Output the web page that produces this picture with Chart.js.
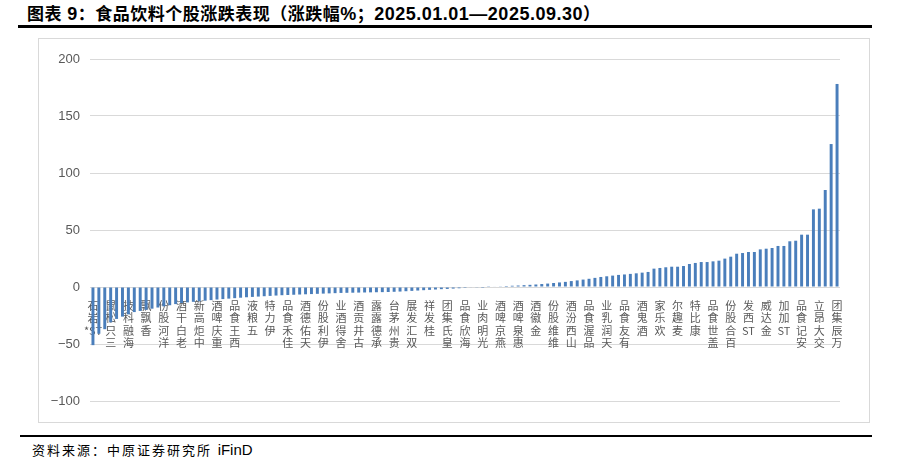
<!DOCTYPE html>
<html>
<head>
<meta charset="utf-8">
<script src="https://cdn.jsdelivr.net/npm/chart.js@4.4.1/dist/chart.umd.min.js"></script>
<style>
    body { margin: 0; background: #fff; width: 899px; height: 465px; position: relative; overflow: hidden;
           font-family: "Liberation Sans", "Noto Sans CJK SC", sans-serif; }
    #title { position: absolute; left: 27px; top: 0px; font-size: 17px; font-weight: bold; color: #000; white-space: nowrap; letter-spacing: 0.5px; }
    #title .n { font-size: 18px; }
    #topline { position: absolute; left: 18px; top: 25px; width: 854px; height: 3px; background: #000; }
    #box { position: absolute; left: 38px; top: 38px; width: 830px; height: 383px; border: 1px solid #d9d9d9; }
    #bottomline { position: absolute; left: 20px; top: 435px; width: 852px; height: 2px; background: #000; }
    #source { position: absolute; left: 32px; top: 440px; font-size: 13px; letter-spacing: 2px; color: #000; white-space: nowrap; }
    #source .n { font-size: 15px; letter-spacing: 0; }
    #wrap { position: absolute; left: 41px; top: 39px; width: 827px; height: 382px; }
</style>
</head>
<body>
<div id="title">图表 <span class="n">9</span>：食品饮料个股涨跌表现（涨跌幅<span class="n">%</span>；<span class="n">2025.01.01—2025.09.30</span>）</div>
<div id="topline"></div>
<div id="box"></div>
<div id="wrap"><canvas id="chart" width="827" height="382"></canvas></div>
<div id="bottomline"></div>
<div id="source">资料来源：中原证券研究所 <span class="n">iFinD</span></div>

<script>
// only every third stock is labelled in the source picture
const stockNames = [
    '*ST岩石', '三只松鼠', '海融科技', '香飘飘', '洋河股份', '老白干酒', '中炬高新', '重庆啤酒',
    '西王食品', '五粮液', '伊力特', '佳禾食品', '天佑德酒', '伊利股份', '舍得酒业', '古井贡酒',
    '承德露露', '贵州茅台', '双汇发展', '桂发祥', '皇氏集团', '海欣食品', '光明肉业', '燕京啤酒',
    '惠泉啤酒', '金徽酒', '维维股份', '山西汾酒', '品渥食品', '天润乳业', '有友食品', '酒鬼酒',
    '欢乐家', '麦趣尔', '康比特', '盖世食品', '百合股份', 'ST西发', '金达威', 'ST加加',
    '安记食品', '交大昂立', '万辰集团'
];

// 涨跌幅 %, sorted ascending
const changePct = [
    -51, -41, -37, -31, -28, -26, -24, -22, -21, -20,
    -19, -18, -17, -16, -15, -14, -13.5, -13, -12.5, -12,
    -11.5, -11, -10.6, -10.2, -9.8, -9.4, -9, -8.7, -8.4, -8.1,
    -7.8, -7.5, -7.2, -7, -6.8, -6.6, -6.4, -6.2, -6, -5.8,
    -5.6, -5.4, -5.2, -5.1, -5, -4.9, -4.8, -4.7, -4.6, -4.5,
    -4.4, -4.2, -4, -3.7, -3.4, -3.1, -2.8, -2.5, -2.2, -1.9,
    -1.7, -1.4, -1.1, -0.8, -0.5, -0.3, -0.1,
    0.2, 0.4, 0.6, 0.9, 1.1, 1.3, 1.6, 1.9, 2.2, 2.6,
    3.0, 3.5, 4.0, 4.5, 5.2, 5.8, 6.5, 7.2, 8.0, 8.8,
    9.4, 10.0, 10.6, 11.0, 11.5, 12.0,
    12.6, 13.2, 16.1, 16.7, 17.3, 17.8, 17.8, 18.4, 20.2, 21.1,
    21.9, 21.9, 22.5, 23.1, 24.9, 26.6, 29.2, 29.8, 30.7, 30.7,
    33.0, 33.6, 34.2, 36.0, 36.0, 40.1, 40.6, 45.9, 45.9, 68.1,
    68.7, 85.1, 125.4, 178.1
];

const yTicks = [-100, -50, 0, 50, 100, 150, 200];

const categories = changePct.map(function(v, i) {
    return i % 3 === 0 ? stockNames[i / 3] : '';
});

// stack characters bottom-to-top, keep latin runs together
function stackLabel(name) {
    if (!name) return '';
    return name.match(/[\x00-\x7F]+|./g).reverse();
}

const ctx = document.getElementById('chart').getContext('2d');
new Chart(ctx, {
    type: 'bar',
    data: {
        labels: categories,
        datasets: [{
            data: changePct,
            backgroundColor: '#4A7EBB',
            barPercentage: 0.5,
            categoryPercentage: 1.0
        }]
    },
    options: {
        responsive: false,
        animation: false,
        devicePixelRatio: 1,
        layout: { padding: { top: 20, right: 28, bottom: 20, left: 0 } },
        plugins: { legend: { display: false }, tooltip: { enabled: false } },
        scales: {
            x: {
                position: { y: 0 },
                z: 1,
                grid: { display: false },
                border: { display: false },
                ticks: {
                    autoSkip: false,
                    maxRotation: 0,
                    minRotation: 0,
                    padding: 4,
                    color: '#595959',
                    font: { family: '"Noto Sans CJK SC", "Liberation Sans"', size: 11, lineHeight: 1.15 },
                    callback: function(val, i) { return stackLabel(categories[i]); }
                }
            },
            y: {
                min: yTicks[0],
                max: yTicks[yTicks.length - 1],
                afterFit: function(scale) { scale.width = 49; },
                afterBuildTicks: function(scale) {
                    scale.ticks = yTicks.map(function(v) { return { value: v }; });
                },
                grid: { color: '#d9d9d9', drawTicks: false },
                border: { display: false },
                ticks: {
                    padding: 10,
                    color: '#595959',
                    font: { family: '"Liberation Sans"', size: 13 },
                    callback: function(v) { return String(v).replace('-', '\u2212'); }
                }
            }
        }
    }
});
</script>
</body>
</html>
